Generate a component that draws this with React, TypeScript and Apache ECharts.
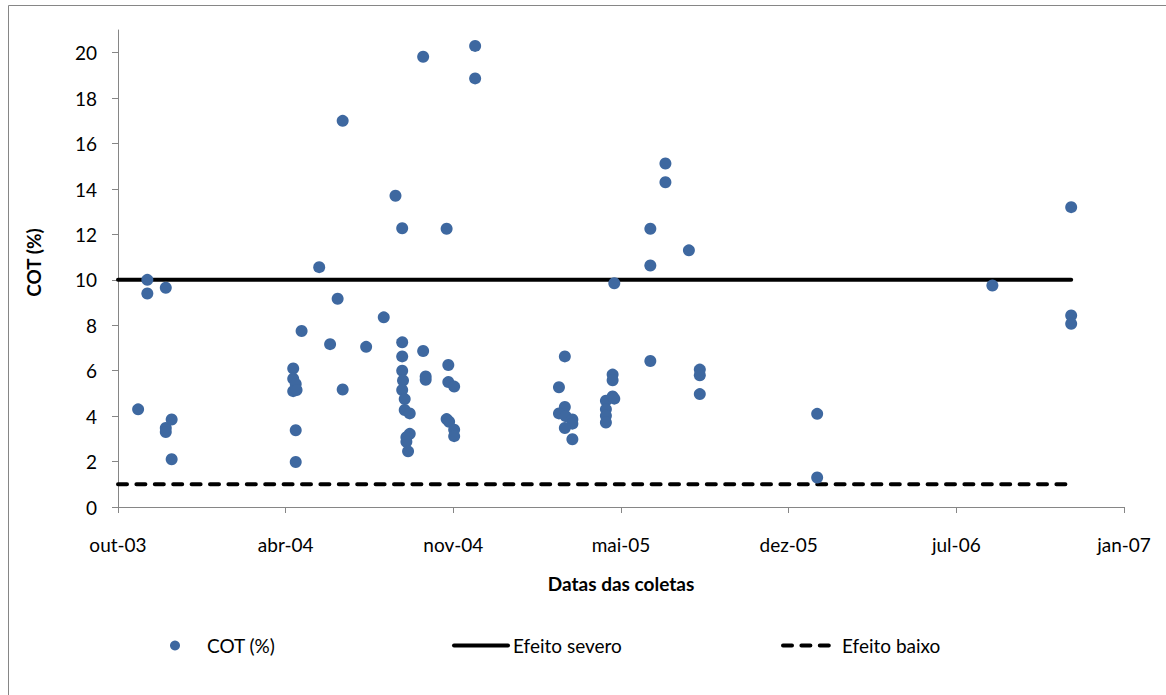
import { useEffect, useRef } from "react";
import * as echarts from "echarts";

// Sampling dates (collection dates) and COT (%) values
const sampleDates = [
  "2003-10-30", "2003-11-10", "2003-11-10", "2003-12-02", "2003-12-02", "2003-12-02", "2003-12-09", "2003-12-09",
  "2004-05-02", "2004-05-02", "2004-05-05", "2004-05-02", "2004-05-06", "2004-05-12", "2004-05-05", "2004-05-05",
  "2004-06-02", "2004-06-15", "2004-06-24", "2004-06-30", "2004-06-30", "2004-07-28", "2004-08-18", "2004-09-01",
  "2004-09-09", "2004-09-09", "2004-09-09", "2004-09-09", "2004-09-10", "2004-09-09", "2004-09-12", "2004-09-12",
  "2004-09-18", "2004-09-18", "2004-09-14", "2004-09-14", "2004-09-16", "2004-10-04", "2004-10-04", "2004-10-07",
  "2004-10-07", "2004-11-01", "2004-11-03", "2004-11-03", "2004-11-10", "2004-11-01", "2004-11-04", "2004-11-10",
  "2004-11-10", "2004-12-05", "2004-12-05",
  "2005-03-15", "2005-03-22", "2005-03-22", "2005-03-15", "2005-03-23", "2005-03-31", "2005-03-31", "2005-03-22",
  "2005-03-31", "2005-05-10", "2005-05-10", "2005-05-10", "2005-05-10", "2005-05-18", "2005-05-18", "2005-05-18",
  "2005-05-20", "2005-05-20", "2005-07-02", "2005-07-02", "2005-07-02", "2005-07-20", "2005-07-20", "2005-08-17",
  "2005-08-30", "2005-08-30", "2005-08-30",
  "2006-01-17", "2006-01-17", "2006-08-14", "2006-11-16", "2006-11-16", "2006-11-16",
];

const cotValues = [
  4.3, 10.0, 9.4, 9.65, 3.48, 3.3, 3.85, 2.1,
  6.1, 5.65, 5.42, 5.1, 5.15, 7.75, 3.38, 1.98,
  10.56, 7.17, 9.17, 17.0, 5.17, 7.05, 8.35, 13.7,
  12.27, 7.25, 6.63, 6.0, 5.57, 5.15, 4.75, 4.27,
  4.12, 3.22, 3.07, 2.87, 2.45, 19.82, 6.87, 5.75,
  5.6, 12.25, 6.25, 5.5, 5.3, 3.87, 3.75, 3.4,
  3.12, 20.3, 18.87,
  5.27, 6.63, 4.4, 4.12, 4.0, 3.85, 3.67, 3.48,
  2.98, 4.68, 4.3, 4.02, 3.72, 5.83, 5.58, 4.87,
  4.77, 9.85, 12.25, 10.63, 6.43, 15.12, 14.3, 11.3,
  6.05, 5.8, 4.97,
  4.1, 1.3, 9.75, 13.2, 8.43, 8.07,
];

// Reference levels
const severeLevel = 10;
const lowLevel = 1;
const limitDates = ["2003-10-06", "2006-11-16"];

// Axis ticks
const xTickDates = ["2003-10-06", "2004-04-23", "2004-11-09", "2005-05-28", "2005-12-14", "2006-07-02", "2007-01-18"];
const xTickLabels = ["out-03", "abr-04", "nov-04", "mai-05", "dez-05", "jul-06", "jan-07"];
const yTicks = [0, 2, 4, 6, 8, 10, 12, 14, 16, 18, 20];
const yMax = 21;

const toSerial = (s: string) => {
  const [y, m, d] = s.split("-").map(Number);
  return Math.round(Date.UTC(y, m - 1, d) / 86400000) + 25569;
};

const FONT = "Lato";
const AXIS_GRAY = "#868686";
const DOT_BLUE = "#3E68A0";
const DASH = [9, 9.4];

export default function App() {
  const ref = useRef<HTMLDivElement>(null);

  useEffect(() => {
    document.body.style.margin = "0";
    if (!ref.current) return;
    const chart = echarts.init(ref.current, undefined, { renderer: "svg" });
    const xTickSerials = xTickDates.map(toSerial);
    const scatterData = sampleDates.map((d, i) => [toSerial(d), cotValues[i]]);
    const severeData = limitDates.map((d) => [toSerial(d), severeLevel]);
    const lowData = limitDates.map((d) => [toSerial(d), lowLevel]);

    const textStyle = { fontFamily: FONT, fontSize: 19, color: "#000" };

    chart.setOption({
      animation: false,
      backgroundColor: "#fff",
      textStyle: { fontFamily: FONT },
      graphic: [
        {
          type: "rect",
          shape: { x: 8.5, y: 5.5, width: 1300, height: 900 },
          style: { fill: "none", stroke: AXIS_GRAY, lineWidth: 1 },
          silent: true,
        },
      ],
      grid: { left: 118, right: 42, top: 30, bottom: 188, containLabel: false },
      xAxis: {
        type: "value",
        min: xTickSerials[0],
        max: xTickSerials[xTickSerials.length - 1],
        name: "Datas das coletas",
        nameLocation: "middle",
        nameGap: 67,
        nameTextStyle: { ...textStyle, fontWeight: "bold", fontSize: 19 },
        splitLine: { show: false },
        axisLine: { lineStyle: { color: AXIS_GRAY, width: 1 } },
        axisTick: { show: true, length: 6, lineStyle: { color: AXIS_GRAY }, customValues: xTickSerials },
        axisLabel: {
          ...textStyle,
          margin: 28,
          customValues: xTickSerials,
          formatter: (v: number) => {
            const idx = xTickSerials.indexOf(v);
            return idx >= 0 ? xTickLabels[idx] : "";
          },
        },
      },
      yAxis: {
        type: "value",
        min: 0,
        max: yMax,
        name: "COT (%)",
        nameLocation: "middle",
        nameGap: 75,
        nameTextStyle: { ...textStyle, fontWeight: "bold", fontSize: 19, padding: [0, 0, 0, 12] },
        splitLine: { show: false },
        axisLine: { show: true, lineStyle: { color: AXIS_GRAY, width: 1 } },
        axisTick: { show: true, length: 6, lineStyle: { color: AXIS_GRAY }, customValues: yTicks },
        axisLabel: { ...textStyle, margin: 21, customValues: yTicks },
      },
      legend: [
        {
          data: ["COT (%)"],
          left: 165,
          top: 631,
          itemWidth: 54,
          itemHeight: 10,
          textStyle: textStyle,
        },
        {
          data: ["Efeito severo"],
          left: 447,
          top: 631,
          itemWidth: 54,
          itemHeight: 10,
          itemStyle: { opacity: 0 },
          lineStyle: { width: 4, color: "#000", type: "solid" },
          textStyle: textStyle,
        },
        {
          data: ["Efeito baixo"],
          left: 776,
          top: 631,
          itemWidth: 54,
          itemHeight: 10,
          itemStyle: { opacity: 0 },
          lineStyle: { width: 4, color: "#000", type: DASH, cap: "round" },
          textStyle: textStyle,
        },
      ],
      series: [
        {
          name: "Efeito severo",
          type: "line",
          data: severeData,
          symbol: "none",
          lineStyle: { color: "#000", width: 4, cap: "round" },
          itemStyle: { color: "#000" },
          z: 1,
        },
        {
          name: "Efeito baixo",
          type: "line",
          data: lowData,
          symbol: "none",
          lineStyle: { color: "#000", width: 4, type: DASH, cap: "round" },
          itemStyle: { color: "#000" },
          z: 1,
        },
        {
          name: "COT (%)",
          type: "scatter",
          data: scatterData,
          symbol: "circle",
          symbolSize: 12,
          itemStyle: { color: DOT_BLUE, opacity: 1 },
          z: 3,
        },
      ],
    });
    return () => chart.dispose();
  }, []);

  return <div ref={ref} style={{ width: 1166, height: 695 }} />;
}
